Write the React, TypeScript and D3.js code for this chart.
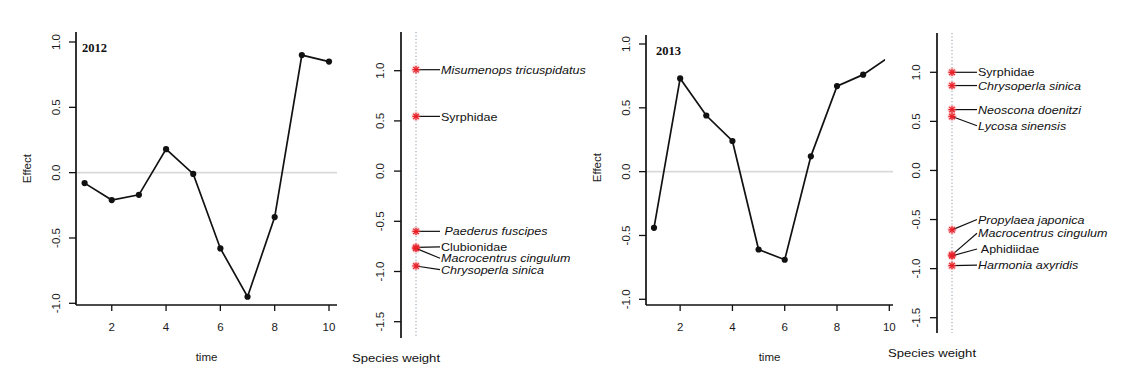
import React from 'react';
import * as d3 from 'd3';

// time series values
const time = [1, 2, 3, 4, 5, 6, 7, 8, 9, 10];
const effect2012 = [-0.08, -0.21, -0.17, 0.18, -0.01, -0.58, -0.95, -0.34, 0.90, 0.85];
const effect2013 = [-0.44, 0.73, 0.44, 0.24, -0.61, -0.69, 0.12, 0.67, 0.76, 0.90];

const effectTicks = [-1, -0.5, 0, 0.5, 1];
const timeTicks = [2, 4, 6, 8, 10];
const weightTicks = [-1.5, -1, -0.5, 0, 0.5, 1];

// species weights; labelAt is where R's label was nudged to (same units)
const species2012 = ['Misumenops tricuspidatus', 'Syrphidae', ' Paederus fuscipes', 'Clubionidae', 'Macrocentrus cingulum', 'Chrysoperla sinica'];
const weight2012 = [1.01, 0.545, -0.60, -0.76, -0.77, -0.945];
const labelAt2012 = [1.01, 0.545, -0.60, -0.755, -0.868, -0.982];
const italic2012 = [true, false, true, false, true, true];

const species2013 = ['Syrphidae', 'Chrysoperla sinica', 'Neoscona doenitzi', 'Lycosa sinensis', 'Propylaea japonica', 'Macrocentrus cingulum', ' Aphidiidae', 'Harmonia axyridis'];
const weight2013 = [1.0, 0.865, 0.62, 0.55, -0.605, -0.86, -0.87, -0.97];
const labelAt2013 = [1.0, 0.865, 0.62, 0.455, -0.50, -0.64, -0.80, -0.965];
const italic2013 = [false, true, true, true, true, true, false, true];

const sans = 'Arial, "Liberation Sans", Helvetica, sans-serif';
const fmt = (v: number) => d3.format('.1f')(v).replace('−', '-');
// the figure is a little stretched sideways, so text is widened a bit
const stretch = 1.16;

type EffectProps = {
  year: string;
  values: number[];
  xRange: [number, number];
  yRange: [number, number];
  axisX: number;
  axisY: number;
  top: number;
  right: number;
  clipRight: number;
  yearDx: number;
  id: string;
};

const EffectPanel = ({ year, values, xRange, yRange, axisX, axisY, top, right, clipRight, yearDx, id }: EffectProps) => {
  const x = d3.scaleLinear().domain([1, 10]).range(xRange);
  const y = d3.scaleLinear().domain([-1, 1]).range(yRange);
  const pts = time.map((t, i) => [t, values[i]] as [number, number]);
  const line = d3.line<[number, number]>().x(d => x(d[0])).y(d => y(d[1]));
  const midX = (axisX + right) / 2;

  return (
    <g>
      <defs>
        <clipPath id={id}>
          <rect x={axisX} y={top} width={clipRight - axisX} height={axisY - top} />
        </clipPath>
      </defs>
      {/* zero reference */}
      <line x1={axisX} x2={right} y1={y(0)} y2={y(0)} stroke="#d9d9d9" strokeWidth={1.6} />
      <g clipPath={`url(#${id})`}>
        <path d={line(pts) || ''} fill="none" stroke="#111" strokeWidth={1.7} />
        {pts.map((d, i) => (
          <circle key={i} cx={x(d[0])} cy={y(d[1])} r={3.1} fill="#111" />
        ))}
      </g>
      {/* L-shaped frame */}
      <line x1={axisX} x2={axisX} y1={top} y2={axisY} stroke="#111" strokeWidth={1.7} />
      <line x1={axisX} x2={right} y1={axisY} y2={axisY} stroke="#111" strokeWidth={1.7} />
      {effectTicks.map(t => (
        <g key={t}>
          <line x1={axisX - 7} x2={axisX} y1={y(t)} y2={y(t)} stroke="#111" strokeWidth={1.3} />
          <text
            transform={`translate(${axisX - 20},${y(t)}) rotate(-90)`}
            textAnchor="middle"
            dominantBaseline="central"
            fontFamily={sans}
            fontSize={11.5}
            fill="#1a1a1a"
          >
            {fmt(t)}
          </text>
        </g>
      ))}
      {timeTicks.map(t => (
        <g key={t}>
          <line x1={x(t)} x2={x(t)} y1={axisY} y2={axisY + 6} stroke="#111" strokeWidth={1.3} />
          <text x={x(t)} y={axisY + 26} textAnchor="middle" fontFamily={sans} fontSize={11.5} fill="#1a1a1a">
            {t}
          </text>
        </g>
      ))}
      <text x={midX} y={axisY + 56} textAnchor="middle" fontFamily={sans} fontSize={11.5} fill="#1a1a1a">time</text>
      <text
        transform={`translate(${axisX - 49},${y(0) - 4}) rotate(-90)`}
        textAnchor="middle"
        dominantBaseline="central"
        fontFamily={sans}
        fontSize={11.5}
        fill="#1a1a1a"
      >
        Effect
      </text>
      <text x={axisX + yearDx} y={top + 20} fontFamily='"Liberation Serif", "Times New Roman", serif' fontWeight="bold" fontSize={12.5} fill="#111">
        {year}
      </text>
    </g>
  );
};

type WeightProps = {
  names: string[];
  weights: number[];
  labelAt: number[];
  italic: boolean[];
  range: [number, number];
  axisX: number;
  top: number;
  bottom: number;
  dotX: number;
  labelX: number;
};

const Asterisk = ({ cx, cy }: { cx: number; cy: number }) => {
  const s = 3.6;
  return (
    <g>
      <circle cx={cx} cy={cy} r={4.6} fill="#ff7070" opacity={0.3} />
      <g stroke="#e8202a" strokeWidth={1.3}>
        <line x1={cx - s} x2={cx + s} y1={cy} y2={cy} />
        <line x1={cx} x2={cx} y1={cy - s} y2={cy + s} />
        <line x1={cx - s * 0.75} x2={cx + s * 0.75} y1={cy - s * 0.75} y2={cy + s * 0.75} />
        <line x1={cx - s * 0.75} x2={cx + s * 0.75} y1={cy + s * 0.75} y2={cy - s * 0.75} />
      </g>
    </g>
  );
};

const WeightPanel = ({ names, weights, labelAt, italic, range, axisX, top, bottom, dotX, labelX }: WeightProps) => {
  const y = d3.scaleLinear().domain([-1.5, 1]).range(range);
  return (
    <g>
      <line x1={axisX} x2={axisX} y1={top} y2={bottom} stroke="#111" strokeWidth={1.7} />
      {weightTicks.map(t => (
        <g key={t}>
          <line x1={axisX - 7} x2={axisX} y1={y(t)} y2={y(t)} stroke="#111" strokeWidth={1.3} />
          <text
            transform={`translate(${axisX - 21},${y(t)}) rotate(-90)`}
            textAnchor="middle"
            dominantBaseline="central"
            fontFamily={sans}
            fontSize={11.5}
            fill="#1a1a1a"
          >
            {fmt(t)}
          </text>
        </g>
      ))}
      <line x1={dotX} x2={dotX} y1={top} y2={bottom} stroke="#8a9aa8" strokeWidth={1} strokeDasharray="1.2,2.2" />
      {names.map((n, i) => (
        <g key={n}>
          <line x1={dotX} y1={y(weights[i])} x2={labelX - 1} y2={y(labelAt[i])} stroke="#111" strokeWidth={1.2} />
          <Asterisk cx={dotX} cy={y(weights[i])} />
          <text
            transform={`translate(${labelX},${y(labelAt[i])}) scale(${stretch},1)`}
            dominantBaseline="central"
            fontFamily={sans}
            fontSize={10.8}
            fontStyle={italic[i] ? 'italic' : 'normal'}
            fill="#111"
            style={{ whiteSpace: 'pre' }}
          >
            {n}
          </text>
        </g>
      ))}
      <text
        transform={`translate(${dotX - 20},${bottom + 24}) scale(${stretch},1)`}
        textAnchor="middle"
        fontFamily={sans}
        fontSize={11.3}
        fill="#111"
      >
        Species weight
      </text>
    </g>
  );
};

export default function App() {
  return (
    <svg width={1131} height={389} style={{ position: 'absolute', left: 0, top: 0, background: '#fff' }}>
      <rect width={1131} height={389} fill="#fff" />
      <EffectPanel
        id="clip2012"
        year="2012"
        values={effect2012}
        xRange={[84.6, 329]}
        yRange={[303.3, 42]}
        axisX={76}
        axisY={305}
        top={32}
        right={337}
        clipRight={337}
        yearDx={6}
      />
      <WeightPanel
        names={species2012}
        weights={weight2012}
        labelAt={labelAt2012}
        italic={italic2012}
        range={[321.7, 70.7]}
        axisX={401}
        top={32}
        bottom={338}
        dotX={416}
        labelX={441}
      />
      <EffectPanel
        id="clip2013"
        year="2013"
        values={effect2013}
        xRange={[654, 889.3]}
        yRange={[299.3, 44]}
        axisX={646}
        axisY={305}
        top={35}
        right={893}
        clipRight={885}
        yearDx={10}
      />
      <WeightPanel
        names={species2013}
        weights={weight2013}
        labelAt={labelAt2013}
        italic={italic2013}
        range={[317.7, 72.3]}
        axisX={937}
        top={33}
        bottom={333}
        dotX={952}
        labelX={978}
      />
    </svg>
  );
}
